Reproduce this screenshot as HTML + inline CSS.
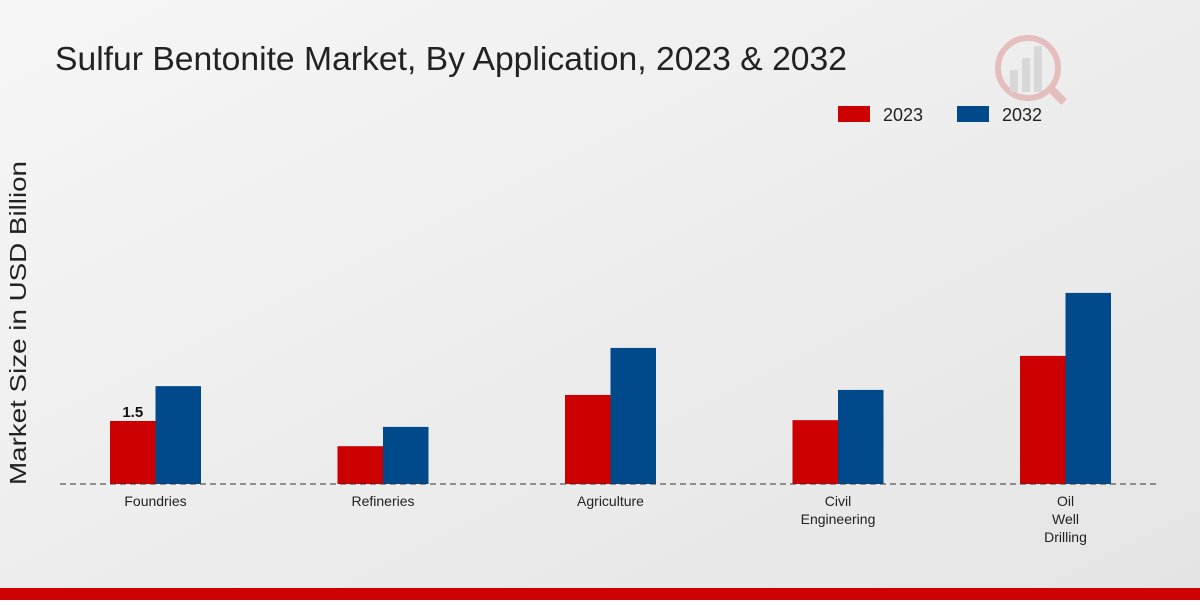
<!DOCTYPE html>
<html><head><meta charset="utf-8"><style>
body{margin:0;width:1200px;height:600px;overflow:hidden;font-family:"Liberation Sans",sans-serif}
</style></head><body>
<svg width="1200" height="600">
<defs><linearGradient id="bg" x1="0" y1="0" x2="1" y2="1"><stop offset="0" stop-color="#f6f6f6"/><stop offset="1" stop-color="#e4e4e4"/></linearGradient></defs>
<rect width="1200" height="600" fill="url(#bg)"/>
<text x="55" y="70" font-size="33" fill="#222" textLength="792" lengthAdjust="spacingAndGlyphs">Sulfur Bentonite Market, By Application, 2023 &amp; 2032</text>
<g opacity="0.25"><circle cx="1028" cy="68" r="30" fill="none" stroke="#c33" stroke-width="6"/><rect x="1010" y="70" width="8" height="22" fill="#999"/><rect x="1022" y="58" width="8" height="34" fill="#999"/><rect x="1034" y="46" width="8" height="46" fill="#999"/><line x1="1050" y1="88" x2="1064" y2="102" stroke="#c33" stroke-width="8"/></g>
<g>
<rect x="838" y="106" width="32" height="16" fill="#cc0000"/>
<text x="883" y="121" font-size="18" fill="#222">2023</text>
<rect x="957" y="106" width="32" height="16" fill="#004a8c"/>
<text x="1002" y="121" font-size="18" fill="#222">2032</text>
</g>
<text transform="translate(26,323) rotate(-90)" text-anchor="middle" font-size="23" fill="#222" textLength="324" lengthAdjust="spacingAndGlyphs">Market Size in USD Billion</text>
<g id="plot"></g>
<line x1="60" y1="484" x2="1160" y2="484" stroke="#333" stroke-dasharray="6,4"/>
<rect x="0" y="588" width="1200" height="12" fill="#cc0000"/>
</svg>
<script>
const categories=[["Foundries"],["Refineries"],["Agriculture"],["Civil","Engineering"],["Oil","Well","Drilling"]];
const values2023=[1.5,0.9,2.12,1.52,3.05];
const values2032=[2.33,1.36,3.24,2.24,4.55];
const ns="http://www.w3.org/2000/svg";
const g=document.getElementById("plot");
const base=484, scale=42, x0=155.5, step=227.5, bw=45.5;
const y=v=>base-v*scale;
const xc=i=>x0+i*step;
function mk(t,a){const e=document.createElementNS(ns,t);for(const k in a)e.setAttribute(k,a[k]);g.appendChild(e);return e;}
categories.forEach((c,i)=>{
 const r=mk("rect",{x:xc(i)-bw,y:y(values2023[i]),width:bw,height:values2023[i]*scale,fill:"#cc0000"});
 
 
 const b=mk("rect",{x:xc(i),y:y(values2032[i]),width:bw,height:values2032[i]*scale,fill:"#004a8c"});
 
 
 c.forEach((line,j)=>{
  const t=mk("text",{x:xc(i),y:506+j*18,"text-anchor":"middle","font-size":"14",fill:"#222"});
  t.textContent=line;
  
  
 });
});
const lab=mk("text",{x:xc(0)-bw/2,y:y(values2023[0])-4,"text-anchor":"middle","font-size":"15","font-weight":"bold",fill:"#111"});
lab.textContent=values2023[0];


</script>
</body></html>
